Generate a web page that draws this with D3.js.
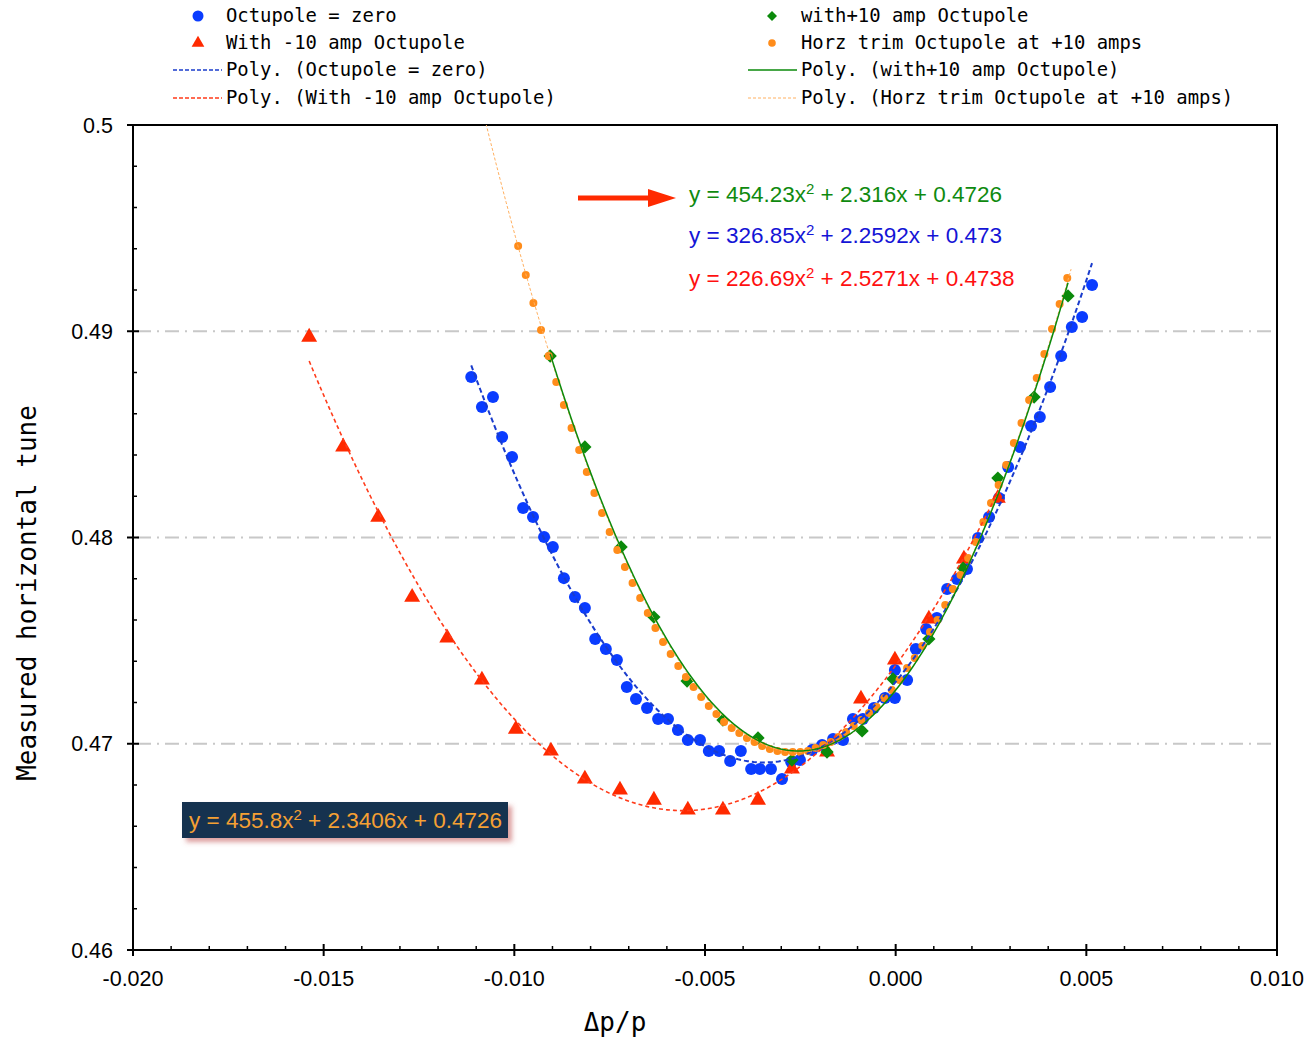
<!DOCTYPE html>
<html>
<head>
<meta charset="utf-8">
<script src="https://cdn.jsdelivr.net/npm/d3@7"></script>
<style>
  body { margin: 0; background: #fff; }
  svg { display: block; }
</style>
</head>
<body>
<div id="chart"></div>
<script>
// data (x = dp/p, y = measured horizontal tune)
const zeroX = [-0.01113, -0.01056, -0.01085, -0.01032, -0.01006, -0.00977, -0.00951, -0.00922, -0.00899, -0.00870,
  -0.00841, -0.00815, -0.00788, -0.00760, -0.00731, -0.00705, -0.00681, -0.00652, -0.00623, -0.00597,
  -0.00571, -0.00545, -0.00513, -0.00490, -0.00463, -0.00434, -0.00406, -0.00379, -0.00356, -0.00327,
  -0.00298, -0.00274, -0.00251, -0.00219, -0.00193, -0.00164, -0.00138, -0.00112, -0.00086, -0.00057,
  -0.00028, -0.00002, -0.00002, 0.00030, 0.00053, 0.00080, 0.00108, 0.00135, 0.00161, 0.00187,
  0.00216, 0.00245, 0.00271, 0.00295, 0.00326, 0.00355, 0.00378, 0.00405, 0.00434, 0.00462,
  0.00489, 0.00515];
const zeroY = [0.48778, 0.48681, 0.48633, 0.48487, 0.48390, 0.48143, 0.48099, 0.48002, 0.47954, 0.47803,
  0.47711, 0.47658, 0.47508, 0.47459, 0.47406, 0.47275, 0.47217, 0.47173, 0.47120, 0.47120,
  0.47067, 0.47018, 0.47018, 0.46965, 0.46965, 0.46916, 0.46965, 0.46878, 0.46878, 0.46878,
  0.46829, 0.46911, 0.46921, 0.46970, 0.46994, 0.47023, 0.47018, 0.47120, 0.47120, 0.47173,
  0.47222, 0.47222, 0.47358, 0.47309, 0.47459, 0.47556, 0.47610, 0.47750, 0.47799, 0.47847,
  0.47998, 0.48099, 0.48192, 0.48342, 0.48439, 0.48541, 0.48584, 0.48730, 0.48880, 0.49021,
  0.49069, 0.49224];

const minusX = [-0.01538, -0.01449, -0.01357, -0.01268, -0.01176, -0.01085, -0.00996, -0.00904, -0.00815, -0.00723,
  -0.00634, -0.00545, -0.00453, -0.00361, -0.00272, -0.00180, -0.00091, -0.00002, 0.00087, 0.00179, 0.00268];
const minusY = [0.48972, 0.48439, 0.48099, 0.47711, 0.47513, 0.47309, 0.47071, 0.46965, 0.46829, 0.46776,
  0.46727, 0.46679, 0.46679, 0.46727, 0.46878, 0.46960, 0.47217, 0.47406, 0.47605, 0.47896, 0.48191];

const plusX = [-0.00906, -0.00815, -0.00720, -0.00634, -0.00547, -0.00453, -0.00361, -0.00272, -0.00180, -0.00088,
  -0.00007, 0.00087, 0.00177, 0.00268, 0.00363, 0.00452];
const plusY = [0.48880, 0.48439, 0.47954, 0.47614, 0.47304, 0.47115, 0.47028, 0.46921, 0.46960, 0.47062,
  0.47314, 0.47508, 0.47852, 0.48288, 0.48681, 0.49171];

const trimX = [-0.0099, -0.0097, -0.0095, -0.0093, -0.0091, -0.0089, -0.0087, -0.0085, -0.0083, -0.0081,
  -0.0079, -0.0077, -0.0075, -0.0073, -0.0071, -0.0069, -0.0067, -0.0065, -0.0063, -0.0061,
  -0.0059, -0.0057, -0.0055, -0.0053, -0.0051, -0.0049, -0.0047, -0.0045, -0.0043, -0.0041,
  -0.0039, -0.0037, -0.0035, -0.0033, -0.0031, -0.0029, -0.0027, -0.0025, -0.0023, -0.0021,
  -0.0019, -0.0017, -0.0015, -0.0013, -0.0011, -0.0009, -0.0007, -0.0005, -0.0003, -0.0001,
  0.0001, 0.0003, 0.0005, 0.0007, 0.0009, 0.0011, 0.0013, 0.0015, 0.0017, 0.0019,
  0.0021, 0.0023, 0.0025, 0.0027, 0.0029, 0.0031, 0.0033, 0.0035, 0.0037, 0.0039,
  0.0041, 0.0043, 0.0045];
const trimY = [0.49413, 0.49273, 0.49137, 0.49006, 0.48880, 0.48754, 0.48642, 0.48531, 0.48424, 0.48318,
  0.48216, 0.48119, 0.48027, 0.47939, 0.47857, 0.47779, 0.47707, 0.47634, 0.47561, 0.47493,
  0.47435, 0.47377, 0.47324, 0.47275, 0.47227, 0.47183, 0.47144, 0.47105, 0.47076, 0.47052,
  0.47028, 0.47008, 0.46989, 0.46975, 0.46965, 0.46960, 0.46960, 0.46960, 0.46965, 0.46979,
  0.46994, 0.47008, 0.47033, 0.47057, 0.47086, 0.47115, 0.47149, 0.47178, 0.47222, 0.47261,
  0.47309, 0.47367, 0.47416, 0.47474, 0.47542, 0.47600, 0.47673, 0.47750, 0.47818, 0.47901,
  0.47978, 0.48075, 0.48167, 0.48255, 0.48352, 0.48458, 0.48555, 0.48667, 0.48773, 0.48890,
  0.49011, 0.49132, 0.49258];

// trendline coefficients [a, b, c] for y = a x^2 + b x + c, and their x spans
const zeroFit = [326.85, 2.2592, 0.473];
const minusFit = [226.69, 2.5271, 0.4738];
const plusFit = [454.23, 2.316, 0.4726];
const trimFit = [455.8, 2.3406, 0.4726];
const zeroSpan = [-0.01113, 0.00515];
const minusSpan = [-0.01538, 0.00268];
const plusSpan = [-0.00906, 0.00452];
const trimSpan = [-0.0115, 0.0046];

const xTicks = [-0.020, -0.015, -0.010, -0.005, 0.000, 0.005, 0.010];
const yTicks = [0.46, 0.47, 0.48, 0.49, 0.50];
const yTickLabels = ["0.46", "0.47", "0.48", "0.49", "0.5"];
const gridValues = [0.47, 0.48, 0.49];

const W = 1308, H = 1040;
const pL = 133, pR = 1277, pT = 125, pB = 950;

const cBlue = "#0a3cff", cRed = "#ff2a00", cGreen = "#0b8a0b", cOrange = "#ff8c1a";

const svg = d3.select("#chart").append("svg")
  .attr("width", W)
  .attr("height", H);

const x = d3.scaleLinear().domain([-0.02, 0.01]).range([pL, pR]);
const y = d3.scaleLinear().domain([0.46, 0.5]).range([pB, pT]);

const defs = svg.append("defs");
defs.append("clipPath").attr("id", "plotclip")
  .append("rect").attr("x", pL).attr("y", pT)
  .attr("width", pR - pL).attr("height", pB - pT);

// grid
svg.append("g").selectAll("line").data(gridValues).join("line")
  .attr("x1", pL + 4).attr("x2", pR - 4)
  .attr("y1", d => y(d)).attr("y2", d => y(d))
  .attr("stroke", "#c8c8c8").attr("stroke-width", 2)
  .attr("stroke-dasharray", "14,6,2,6");

// minor ticks
const xMinor = d3.range(-0.02, 0.0100001, 0.001).filter(v => Math.abs(Math.round(v * 200) - v * 200) > 1e-6);
const yMinor = d3.range(0.46, 0.5000001, 0.002).filter(v => Math.abs(Math.round(v * 100) - v * 100) > 1e-6);

const axes = svg.append("g").attr("stroke", "#000");
axes.selectAll(".xmin").data(xMinor).join("line")
  .attr("x1", d => x(d)).attr("x2", d => x(d))
  .attr("y1", pB).attr("y2", pB - 4).attr("stroke-width", 1.5);
axes.selectAll(".xmaj").data(xTicks).join("line")
  .attr("x1", d => x(d)).attr("x2", d => x(d))
  .attr("y1", pB - 6).attr("y2", pB + 6).attr("stroke-width", 2);
axes.selectAll(".ymin").data(yMinor).join("line")
  .attr("x1", pL).attr("x2", pL + 4)
  .attr("y1", d => y(d)).attr("y2", d => y(d)).attr("stroke-width", 1.5);
axes.selectAll(".ymaj").data(yTicks).join("line")
  .attr("x1", pL - 6).attr("x2", pL + 6)
  .attr("y1", d => y(d)).attr("y2", d => y(d)).attr("stroke-width", 2);

// frame
svg.append("rect")
  .attr("x", pL).attr("y", pT)
  .attr("width", pR - pL).attr("height", pB - pT)
  .attr("fill", "none").attr("stroke", "#000").attr("stroke-width", 2);

// tick labels
svg.append("g").selectAll("text").data(xTicks).join("text")
  .attr("x", d => x(d)).attr("y", 986)
  .attr("text-anchor", "middle")
  .attr("font-family", "Liberation Sans, Arial, sans-serif")
  .attr("font-size", 21.5)
  .text(d => d3.format(".3f")(d).replace("−", "-"));

svg.append("g").selectAll("text").data(yTicks).join("text")
  .attr("x", 113).attr("y", d => y(d) + 7.5)
  .attr("text-anchor", "end")
  .attr("font-family", "Liberation Sans, Arial, sans-serif")
  .attr("font-size", 21.5)
  .text((d, i) => yTickLabels[i]);

// axis titles
const mono = "DejaVu Sans Mono, monospace";
svg.append("text")
  .attr("x", 615).attr("y", 1031)
  .attr("text-anchor", "middle")
  .attr("font-family", mono).attr("font-size", 26)
  .text("Δp/p");
svg.append("text")
  .attr("transform", "translate(36,593) rotate(-90)")
  .attr("text-anchor", "middle")
  .attr("font-family", mono).attr("font-size", 26)
  .text("Measured horizontal tune");

// markers
const plot = svg.append("g").attr("clip-path", "url(#plotclip)");
const zip = (xs, ys) => xs.map((v, i) => [v, ys[i]]);

plot.append("g").selectAll("circle").data(zip(zeroX, zeroY)).join("circle")
  .attr("cx", d => x(d[0])).attr("cy", d => y(d[1])).attr("r", 6)
  .attr("fill", cBlue);

const tri = d3.symbol().type(d3.symbolTriangle).size(110);
plot.append("g").selectAll("path").data(zip(minusX, minusY)).join("path")
  .attr("d", tri)
  .attr("transform", d => `translate(${x(d[0])},${y(d[1])})`)
  .attr("fill", cRed);

const dia = d3.symbol().type(d3.symbolSquare).size(88);
plot.append("g").selectAll("path").data(zip(plusX, plusY)).join("path")
  .attr("d", dia)
  .attr("transform", d => `translate(${x(d[0])},${y(d[1])}) rotate(45)`)
  .attr("fill", cGreen);

plot.append("g").selectAll("circle").data(zip(trimX, trimY)).join("circle")
  .attr("cx", d => x(d[0])).attr("cy", d => y(d[1])).attr("r", 4)
  .attr("fill", cOrange);

// trendlines
const line = d3.line().x(d => x(d[0])).y(d => y(d[1]));
function curve(fit, span) {
  const n = 200, pts = [];
  for (let i = 0; i <= n; i++) {
    const v = span[0] + (span[1] - span[0]) * i / n;
    pts.push([v, fit[0] * v * v + fit[1] * v + fit[2]]);
  }
  return pts;
}
plot.append("path").attr("d", line(curve(zeroFit, zeroSpan)))
  .attr("fill", "none").attr("stroke", "#1a3ccc").attr("stroke-width", 2).attr("stroke-dasharray", "5,3");
plot.append("path").attr("d", line(curve(minusFit, minusSpan)))
  .attr("fill", "none").attr("stroke", "#ff3b1a").attr("stroke-width", 1.6).attr("stroke-dasharray", "4,3");
plot.append("path").attr("d", line(curve(trimFit, trimSpan)))
  .attr("fill", "none").attr("stroke", "#ffb060").attr("stroke-width", 1).attr("stroke-dasharray", "3,2");
plot.append("path").attr("d", line(curve(plusFit, plusSpan)))
  .attr("fill", "none").attr("stroke", cGreen).attr("stroke-width", 1.5);

// equations
const sans = "Liberation Sans, Arial, sans-serif";
function equation(g, px, py, parts, color) {
  const t = g.append("text").attr("x", px).attr("y", py)
    .attr("font-family", sans).attr("font-size", 22.5).attr("fill", color);
  t.append("tspan").text(parts[0]);
  t.append("tspan").attr("dy", -8).attr("font-size", 15).text("2");
  t.append("tspan").attr("dy", 8).text(parts[1]);
}
equation(svg, 689, 202, ["y = 454.23x", " + 2.316x + 0.4726"], "#0f8a0f");
equation(svg, 689, 243, ["y = 326.85x", " + 2.2592x + 0.473"], "#1414d6");
equation(svg, 689, 286, ["y = 226.69x", " + 2.5271x + 0.4738"], "#ff1010");

// arrow
svg.append("line").attr("x1", 578).attr("x2", 652).attr("y1", 198).attr("y2", 198)
  .attr("stroke", cRed).attr("stroke-width", 5);
svg.append("path").attr("d", "M648,189 L676,198 L648,207 Z").attr("fill", cRed);

// boxed equation
const bf = defs.append("filter").attr("id", "shadow")
  .attr("x", "-10%").attr("y", "-30%").attr("width", "130%").attr("height", "170%");
bf.append("feDropShadow").attr("dx", 4).attr("dy", 4).attr("stdDeviation", 2.5)
  .attr("flood-color", "#c05050").attr("flood-opacity", 0.55);
svg.append("rect").attr("x", 182).attr("y", 802).attr("width", 326).attr("height", 36)
  .attr("fill", "#17304f").attr("filter", "url(#shadow)");
equation(svg, 189, 828, ["y = 455.8x", " + 2.3406x + 0.4726"], "#f5a033");

// legend
const leg = svg.append("g").attr("font-family", mono).attr("font-size", 18.9).attr("fill", "#000");
const rowsY = [16, 43, 70, 98];
const legText = (px, py, s) => leg.append("text").attr("x", px).attr("y", py + 6).text(s);

leg.append("circle").attr("cx", 198).attr("cy", rowsY[0]).attr("r", 5.5).attr("fill", cBlue);
legText(226, rowsY[0], "Octupole = zero");
leg.append("path").attr("d", d3.symbol().type(d3.symbolTriangle).size(70))
  .attr("transform", `translate(198,${rowsY[1]})`).attr("fill", cRed);
legText(226, rowsY[1], "With -10 amp Octupole");
leg.append("line").attr("x1", 173).attr("x2", 222).attr("y1", rowsY[2]).attr("y2", rowsY[2])
  .attr("stroke", "#1a3ccc").attr("stroke-width", 1.5).attr("stroke-dasharray", "4,2");
legText(226, rowsY[2], "Poly. (Octupole = zero)");
leg.append("line").attr("x1", 173).attr("x2", 222).attr("y1", rowsY[3]).attr("y2", rowsY[3])
  .attr("stroke", "#ff3b1a").attr("stroke-width", 1.5).attr("stroke-dasharray", "4,2");
legText(226, rowsY[3], "Poly. (With -10 amp Octupole)");

leg.append("path").attr("d", d3.symbol().type(d3.symbolSquare).size(50))
  .attr("transform", `translate(772,${rowsY[0]}) rotate(45)`).attr("fill", cGreen);
legText(801, rowsY[0], "with+10 amp Octupole");
leg.append("circle").attr("cx", 772).attr("cy", rowsY[1]).attr("r", 3.8).attr("fill", cOrange);
legText(801, rowsY[1], "Horz trim Octupole at +10 amps");
leg.append("line").attr("x1", 748).attr("x2", 797).attr("y1", rowsY[2]).attr("y2", rowsY[2])
  .attr("stroke", cGreen).attr("stroke-width", 1.5);
legText(801, rowsY[2], "Poly. (with+10 amp Octupole)");
leg.append("line").attr("x1", 748).attr("x2", 797).attr("y1", rowsY[3]).attr("y2", rowsY[3])
  .attr("stroke", "#ffb060").attr("stroke-width", 1).attr("stroke-dasharray", "3,2");
legText(801, rowsY[3], "Poly. (Horz trim Octupole at +10 amps)");
</script>
</body>
</html>
